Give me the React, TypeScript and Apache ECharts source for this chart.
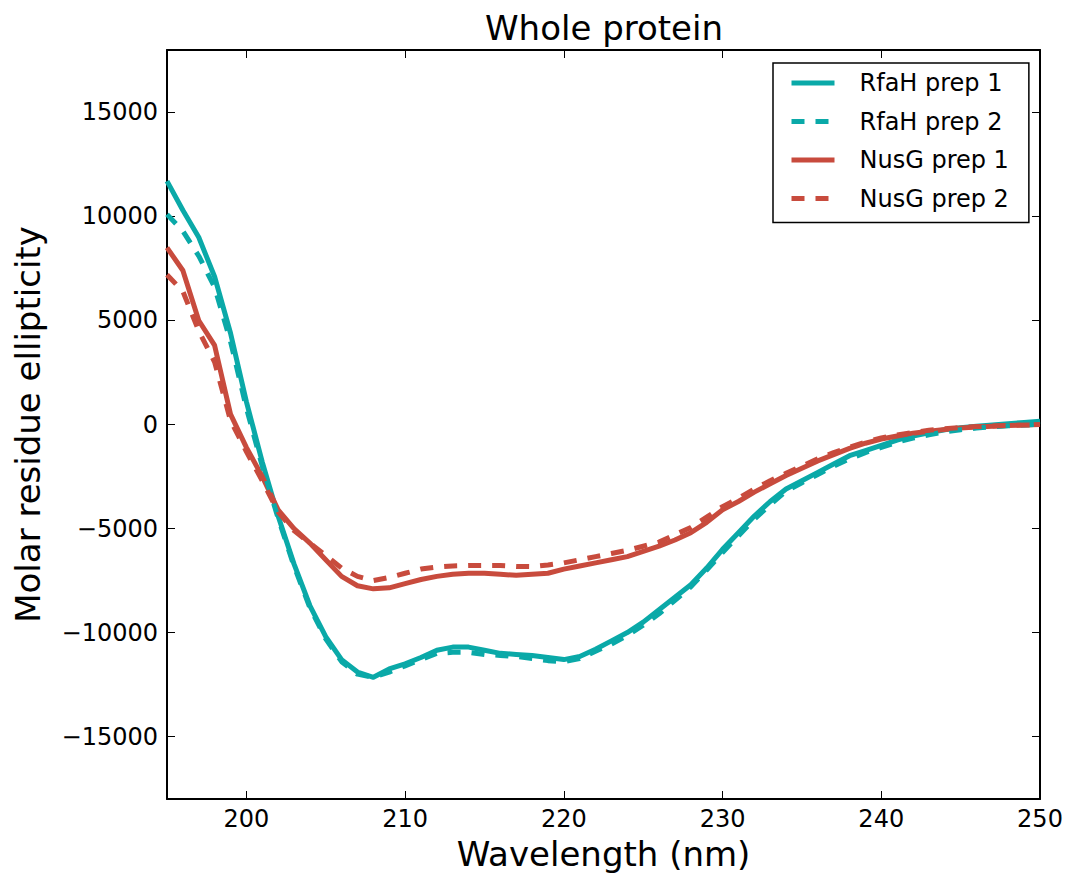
import React, { useEffect, useRef } from "react";
import * as echarts from "echarts";

const wavelengths = [
  195, 196, 197, 198, 199, 200, 201, 202, 203, 204, 205, 206, 207, 208, 209,
  210, 211, 212, 213, 214, 215, 216, 217, 218, 219, 220, 221, 222, 223, 224,
  225, 226, 227, 228, 229, 230, 231, 232, 233, 234, 235, 236, 237, 238, 239,
  240, 241, 242, 243, 244, 245, 246, 247, 248, 249, 250,
];

const rfahPrep1 = [
  11700, 10300, 9000, 7100, 4400, 1100, -1800, -4400, -6700, -8700, -10200,
  -11300, -11900, -12150, -11750, -11500, -11200, -10850, -10700, -10700,
  -10850, -11000, -11050, -11100, -11200, -11300, -11150, -10800, -10400,
  -10000, -9500, -8900, -8300, -7700, -6900, -6000, -5200, -4400, -3700,
  -3100, -2700, -2300, -1900, -1500, -1250, -1000, -750, -550, -400, -250,
  -150, -80, -20, 40, 100, 160,
];

const rfahPrep2 = [
  10100, 9300, 8100, 6600, 4000, 800, -2000, -4500, -6800, -8800, -10300,
  -11400, -12000, -12150, -11900, -11600, -11300, -11000, -10950, -10950,
  -11050, -11100, -11150, -11250, -11350, -11400, -11250, -10900, -10550,
  -10150, -9650, -9100, -8450, -7800, -7000, -6150, -5350, -4550, -3850,
  -3200, -2800, -2400, -2000, -1650, -1350, -1100, -850, -650, -500, -350,
  -250, -170, -110, -60, -20, 20,
];

const nusgPrep1 = [
  8500, 7400, 5000, 3800, 500, -1100, -2500, -4100, -5000, -5700, -6500,
  -7300, -7750, -7900, -7850, -7650, -7450, -7300, -7200, -7150, -7150,
  -7200, -7250, -7200, -7150, -6950, -6800, -6650, -6500, -6350, -6100,
  -5850, -5550, -5200, -4700, -4100, -3700, -3250, -2850, -2450, -2100,
  -1750, -1450, -1150, -900, -700, -550, -420, -320, -240, -170, -120, -80,
  -50, -20, 0,
];

const nusgPrep2 = [
  7200, 6400, 4500, 3000, 200, -1300, -2700, -4200, -5100, -5700, -6300,
  -6900, -7300, -7500, -7350, -7150, -6950, -6850, -6800, -6780, -6780,
  -6780, -6820, -6830, -6750, -6650, -6500, -6350, -6200, -6050, -5850,
  -5650, -5300, -4950, -4450, -3950, -3550, -3100, -2700, -2350, -2000,
  -1650, -1350, -1100, -850, -650, -500, -380, -280, -200, -140, -100, -70,
  -50, -30, -20,
];

const seriesNames = ["RfaH prep 1", "RfaH prep 2", "NusG prep 1", "NusG prep 2"];
const xTicks = [200, 210, 220, 230, 240, 250];
const yTicks = [-15000, -10000, -5000, 0, 5000, 10000, 15000];

const TEAL = "#0aa9a8";
const RED = "#c84b3d";
const FONT = "DejaVu Sans";

const fmtY = (v: number) => (v < 0 ? "\u2212" + Math.abs(v) : String(v));

export default function App() {
  const ref = useRef<HTMLDivElement>(null);

  useEffect(() => {
    if (!ref.current) return;
    const chart = echarts.init(ref.current, null, { renderer: "svg" });

    const pairs = (vals: number[]) => wavelengths.map((w, i) => [w, vals[i]]);
    const mk = (name: string, vals: number[], color: string, dashed: boolean) => ({
      name,
      type: "line",
      data: pairs(vals),
      symbol: "none",
      smooth: false,
      xAxisIndex: 0,
      yAxisIndex: 0,
      lineStyle: {
        color,
        width: 5,
        type: dashed ? [13, 11] : "solid",
        cap: "butt",
        join: "round",
      },
      itemStyle: { color },
      z: dashed ? 3 : 2,
    });

    const tickCommon = {
      show: true,
      inside: true,
      length: 8,
      lineStyle: { color: "#000", width: 1 },
    };
    const lineCommon = { show: true, onZero: false, lineStyle: { color: "#000", width: 2 } };

    chart.setOption({
      animation: false,
      backgroundColor: "#fff",
      textStyle: { fontFamily: FONT },
      grid: { left: 167, right: 26, top: 50, bottom: 79, containLabel: false },
      graphic: [
        {
          type: "text",
          x: 604,
          y: 28,
          style: {
            text: "Whole protein",
            fontSize: 34,
            fontFamily: FONT,
            fill: "#000",
            textAlign: "center",
            textVerticalAlign: "middle",
          },
        },
      ],
      legend: {
        show: true,
        orient: "vertical",
        left: 773,
        top: 63,
        data: seriesNames,
        backgroundColor: "#fff",
        borderColor: "#000",
        borderWidth: 1.5,
        borderRadius: 0,
        padding: [6, 20, 10, 16],
        itemWidth: 43,
        itemHeight: 14,
        itemGap: 10.5,
        itemStyle: { opacity: 0 },
        lineStyle: { width: 5, cap: "butt" },
        textStyle: {
          fontSize: 24,
          fontFamily: FONT,
          color: "#000",
          lineHeight: 28,
          padding: [0, 0, 0, 20],
        },
      },
      xAxis: [
        {
          type: "value",
          position: "bottom",
          min: 195,
          max: 250,
          name: "Wavelength (nm)",
          nameLocation: "middle",
          nameGap: 38,
          nameTextStyle: { fontSize: 34, fontFamily: FONT, color: "#000" },
          axisLine: lineCommon,
          axisTick: { ...tickCommon, customValues: xTicks },
          axisLabel: {
            customValues: xTicks,
            fontSize: 24,
            fontFamily: FONT,
            color: "#000",
            margin: 8,
          },
          splitLine: { show: false },
        },
        {
          type: "value",
          position: "top",
          min: 195,
          max: 250,
          axisLine: lineCommon,
          axisTick: { ...tickCommon, customValues: xTicks },
          axisLabel: { show: false },
          splitLine: { show: false },
        },
      ],
      yAxis: [
        {
          type: "value",
          position: "left",
          min: -18000,
          max: 18000,
          name: "Molar residue ellipticity",
          nameLocation: "middle",
          nameGap: 122,
          nameRotate: 90,
          nameTextStyle: { fontSize: 34, fontFamily: FONT, color: "#000" },
          axisLine: lineCommon,
          axisTick: { ...tickCommon, customValues: yTicks },
          axisLabel: {
            customValues: yTicks,
            fontSize: 24,
            fontFamily: FONT,
            color: "#000",
            margin: 9,
            formatter: fmtY,
          },
          splitLine: { show: false },
        },
        {
          type: "value",
          position: "right",
          min: -18000,
          max: 18000,
          axisLine: lineCommon,
          axisTick: { ...tickCommon, customValues: yTicks },
          axisLabel: { show: false },
          splitLine: { show: false },
        },
      ],
      series: [
        mk(seriesNames[0], rfahPrep1, TEAL, false),
        mk(seriesNames[1], rfahPrep2, TEAL, true),
        mk(seriesNames[2], nusgPrep1, RED, false),
        mk(seriesNames[3], nusgPrep2, RED, true),
      ],
    });

    return () => chart.dispose();
  }, []);

  return (
    <div
      ref={ref}
      style={{ position: "fixed", left: 0, top: 0, width: 1066, height: 878, background: "#fff" }}
    />
  );
}
